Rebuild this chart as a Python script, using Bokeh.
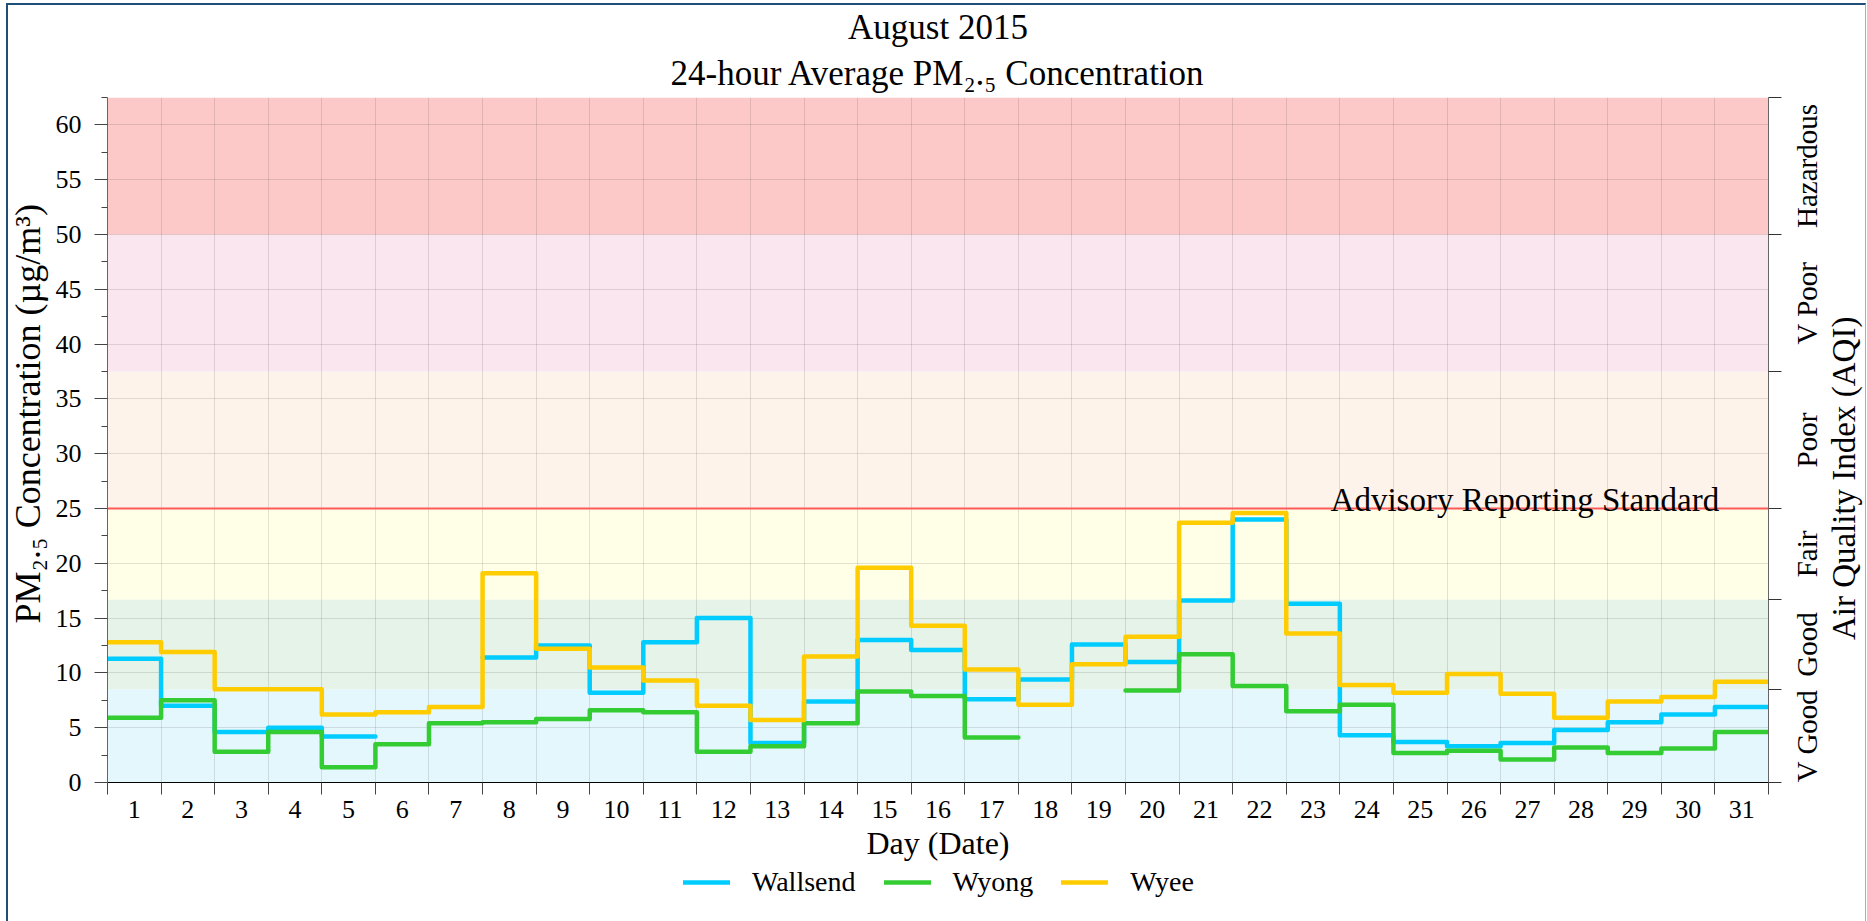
import math
from bokeh.plotting import figure
from bokeh.layouts import column, row
from bokeh.models import (Range1d, LinearAxis, FixedTicker, Legend, LegendItem,
                          Span, Label, Title)
from bokeh.core.properties import value
from bokeh.embed import file_html
from bokeh.resources import INLINE

nan = float("nan")

# ---------------- data ----------------
days = list(range(1, 32))

wallsend = [11.3, 7.0, 4.6, 5.0, 4.2, nan, nan, 11.4, 12.5, 8.2, 12.8, 15.0, 3.6, 7.4, 13.0, 12.1,
            7.6, 9.4, 12.6, 11.0, 16.6, 24.0, 16.3, 4.3, 3.7, 3.3, 3.6, 4.8, 5.5, 6.2, 6.9]
wyong = [5.9, 7.5, 2.8, 4.6, 1.4, 3.5, 5.4, 5.5, 5.8, 6.6, 6.4, 2.8, 3.3, 5.4, 8.3, 7.9,
         4.1, nan, nan, 8.4, 11.7, 8.8, 6.5, 7.1, 2.7, 2.9, 2.1, 3.2, 2.7, 3.1, 4.6]
wyee = [12.8, 11.9, 8.5, 8.5, 6.2, 6.4, 6.9, 19.1, 12.2, 10.5, 9.3, 7.0, 5.7, 11.5, 19.6, 14.3,
        10.3, 7.1, 10.8, 13.3, 23.7, 24.6, 13.6, 8.9, 8.2, 9.9, 8.1, 5.9, 7.4, 7.8, 9.2]

series_names = ["Wallsend", "Wyong", "Wyee"]
series_colors = ["#00CCFF", "#33CC33", "#FFCC00"]

band_names = ["V Good", "Good", "Fair", "Poor", "V Poor", "Hazardous"]
band_edges = [0, 8.5, 16.7, 25, 37.5, 50, 62.5]
band_colors = ["#E4F7FC", "#E6F3E8", "#FFFEE7", "#FEF3EA", "#FAE6EE", "#FCC8C8"]

y_major = [0, 5, 10, 15, 20, 25, 30, 35, 40, 45, 50, 55, 60]
y_minor = [2.5, 7.5, 12.5, 17.5, 22.5, 27.5, 32.5, 37.5, 42.5, 47.5, 52.5, 57.5, 62.5]

advisory_level = 25
advisory_text = "Advisory Reporting Standard"
aqi_title = "Air Quality Index (AQI)"
y_title = "PM\u2082.\u2085 Concentration (\u00b5g/m\u00b3)"

FONT = "Liberation Serif"

FRAME_W, FRAME_H = 1661, 685
TOP, BOTTOM = 91, 80
LSTRIP, LEFT = 44, 54
mid = (band_edges[0] + band_edges[-1]) / 2

# ---------------- main figure ----------------
p = figure(frame_width=FRAME_W, frame_height=FRAME_H, output_backend="svg",
           toolbar_location=None,
           x_range=Range1d(0.5, 31.5), y_range=Range1d(band_edges[0], band_edges[-1]),
           min_border_left=LEFT, min_border_right=15, min_border_top=TOP,
           min_border_bottom=BOTTOM)
p.outline_line_color = None
p.background_fill_color = "white"
p.border_fill_color = "white"

# titles
p.title.text = "August 2015"
p.title.align = "center"
p.title.text_font = FONT
p.title.text_font_size = "35px"
p.title.text_font_style = "normal"
p.title.text_color = "black"
p.title.standoff = 0
sub = Title(text="24-hour Average PM\u2082.\u2085 Concentration", align="center",
            text_font=FONT, text_font_size="35px", text_font_style="normal",
            text_color="black", standoff=10)
p.add_layout(sub, "above")

# AQI bands
edges_lo = band_edges[:-1]
edges_hi = band_edges[1:]
p.quad(left=[0.5] * len(band_names), right=[31.5] * len(band_names),
       bottom=edges_lo, top=edges_hi, fill_color=band_colors, line_color=None,
       level="image")

# x axis: labels on days, ticks on day boundaries
x_edges = [d - 0.5 for d in days] + [days[-1] + 0.5]
xt = FixedTicker(ticks=days, minor_ticks=x_edges)
p.xaxis.ticker = xt
p.xgrid.ticker = xt
p.xgrid.grid_line_color = None
p.xgrid.minor_grid_line_color = "black"
p.xgrid.minor_grid_line_alpha = 0.11
xa = p.xaxis[0]
xa.axis_line_color = "black"
xa.major_tick_out = 0
xa.major_tick_in = 0
xa.minor_tick_out = 12
xa.minor_tick_in = 0
xa.minor_tick_line_color = "#444444"
xa.major_label_text_font = FONT
xa.major_label_text_font_size = "26px"
xa.major_label_text_color = "black"
xa.major_label_standoff = 6
xa.axis_label = "Day (Date)"
xa.axis_label_text_font = FONT
xa.axis_label_text_font_size = "32px"
xa.axis_label_text_font_style = "normal"
xa.axis_label_text_color = "black"
xa.axis_label_standoff = 4

# left y axis (its title is drawn in the left strip)
yt = FixedTicker(ticks=y_major, minor_ticks=y_minor)
p.yaxis.ticker = yt
p.ygrid.ticker = yt
p.ygrid.grid_line_color = "black"
p.ygrid.grid_line_alpha = 0.11
ya = p.yaxis[0]
ya.axis_line_color = "#666666"
ya.major_tick_out = 13
ya.major_tick_in = 0
ya.minor_tick_out = 6
ya.minor_tick_in = 0
ya.major_tick_line_color = "#444444"
ya.minor_tick_line_color = "#444444"
ya.major_label_text_font = FONT
ya.major_label_text_font_size = "26px"
ya.major_label_text_color = "black"
ya.major_label_standoff = 13

# right AQI axis: ticks on band edges only
ra = LinearAxis(ticker=FixedTicker(ticks=[], minor_ticks=band_edges))
ra.axis_line_color = "#666666"
ra.major_tick_out = 0
ra.major_tick_in = 0
ra.minor_tick_out = 13
ra.minor_tick_in = 0
ra.minor_tick_line_color = "#333333"
ra.major_label_standoff = 0
ra.axis_label_standoff = 0
p.add_layout(ra, "right")

# advisory line + label
p.add_layout(Span(location=advisory_level, dimension="width", line_color="#FF5A5A",
                  line_width=2))
p.add_layout(Label(x=30.58, y=advisory_level, text=advisory_text, text_align="right",
                   text_baseline="alphabetic", y_offset=9, text_font=FONT,
                   text_font_size="33px", text_color="black"))


# step lines, each day drawn over its own [day-0.5, day+0.5] interval
def step_path(values):
    xs, ys = [], []
    for d, v in zip(days, values):
        if v != v:
            xs.append(nan)
            ys.append(nan)
            continue
        xs.extend([d - 0.5, d + 0.5])
        ys.extend([v, v])
    return xs, ys


for name, vals, col in zip(series_names, [wallsend, wyong, wyee], series_colors):
    sx, sy = step_path(vals)
    p.line(sx, sy, line_color=col, line_width=4.5, line_join="round", line_cap="round")


def strip(width):
    s = figure(frame_width=width, frame_height=FRAME_H, output_backend="svg",
               toolbar_location=None, x_range=Range1d(0, width), y_range=p.y_range,
               x_axis_location=None, y_axis_location=None,
               min_border_left=0, min_border_right=0, min_border_top=TOP,
               min_border_bottom=BOTTOM)
    s.outline_line_color = None
    s.grid.visible = False
    return s


# ---------------- left strip: y-axis title ----------------
pleft = strip(LSTRIP)
pleft.text(x=[19], y=[mid + 2.4], text=[y_title], angle=math.pi / 2,
           text_align="center", text_baseline="middle", text_font=value(FONT),
           text_font_size="36px", text_color="black")

# ---------------- right strip: AQI category names ----------------
RW = 82
pr = strip(RW)
band_centers = [(a + b) / 2 for a, b in zip(edges_lo, edges_hi)]
pr.text(x=[23] * len(band_names), y=band_centers, text=band_names, angle=math.pi / 2,
        text_align="center", text_baseline="middle", text_font=value(FONT),
        text_font_size="29px", text_color="black")
pr.text(x=[60], y=[mid - 3.5], text=[aqi_title],
        angle=math.pi / 2, text_align="center", text_baseline="middle",
        text_font=value(FONT), text_font_size="33px", text_color="black")

# ---------------- legend strip ----------------
LW = LSTRIP + LEFT + FRAME_W + 15 + RW
pl = figure(width=LW, height=58, output_backend="svg", toolbar_location=None,
            x_range=Range1d(0, 1), y_range=Range1d(0, 1),
            x_axis_location=None, y_axis_location=None,
            min_border_left=0, min_border_right=0, min_border_top=0, min_border_bottom=0)
pl.outline_line_color = None
pl.grid.visible = False
items = []
for name, col in zip(series_names, series_colors):
    r = pl.line(x=[nan], y=[nan], line_color=col, line_width=4.5, line_cap="round")
    items.append(LegendItem(label=name, renderers=[r]))
legend = Legend(items=items, orientation="horizontal", location=(675, 23),
                label_text_font=FONT, label_text_font_size="28px", label_text_color="black",
                glyph_width=47, glyph_height=20, label_standoff=22, spacing=28,
                border_line_color=None, background_fill_alpha=0, padding=0, margin=0)
pl.add_layout(legend, "center")

layout = column(row(pleft, p, pr), pl)
layout.styles = {"margin-left": "6px", "margin-top": "3px",
                 "border-left": "2px solid #1F4E79", "border-top": "2px solid #1F4E79",
                 "border-right": "1px solid #9FB3C8", "border-bottom": "1px solid #9FB3C8"}

open("out.html", "w").write(file_html(layout, INLINE))
